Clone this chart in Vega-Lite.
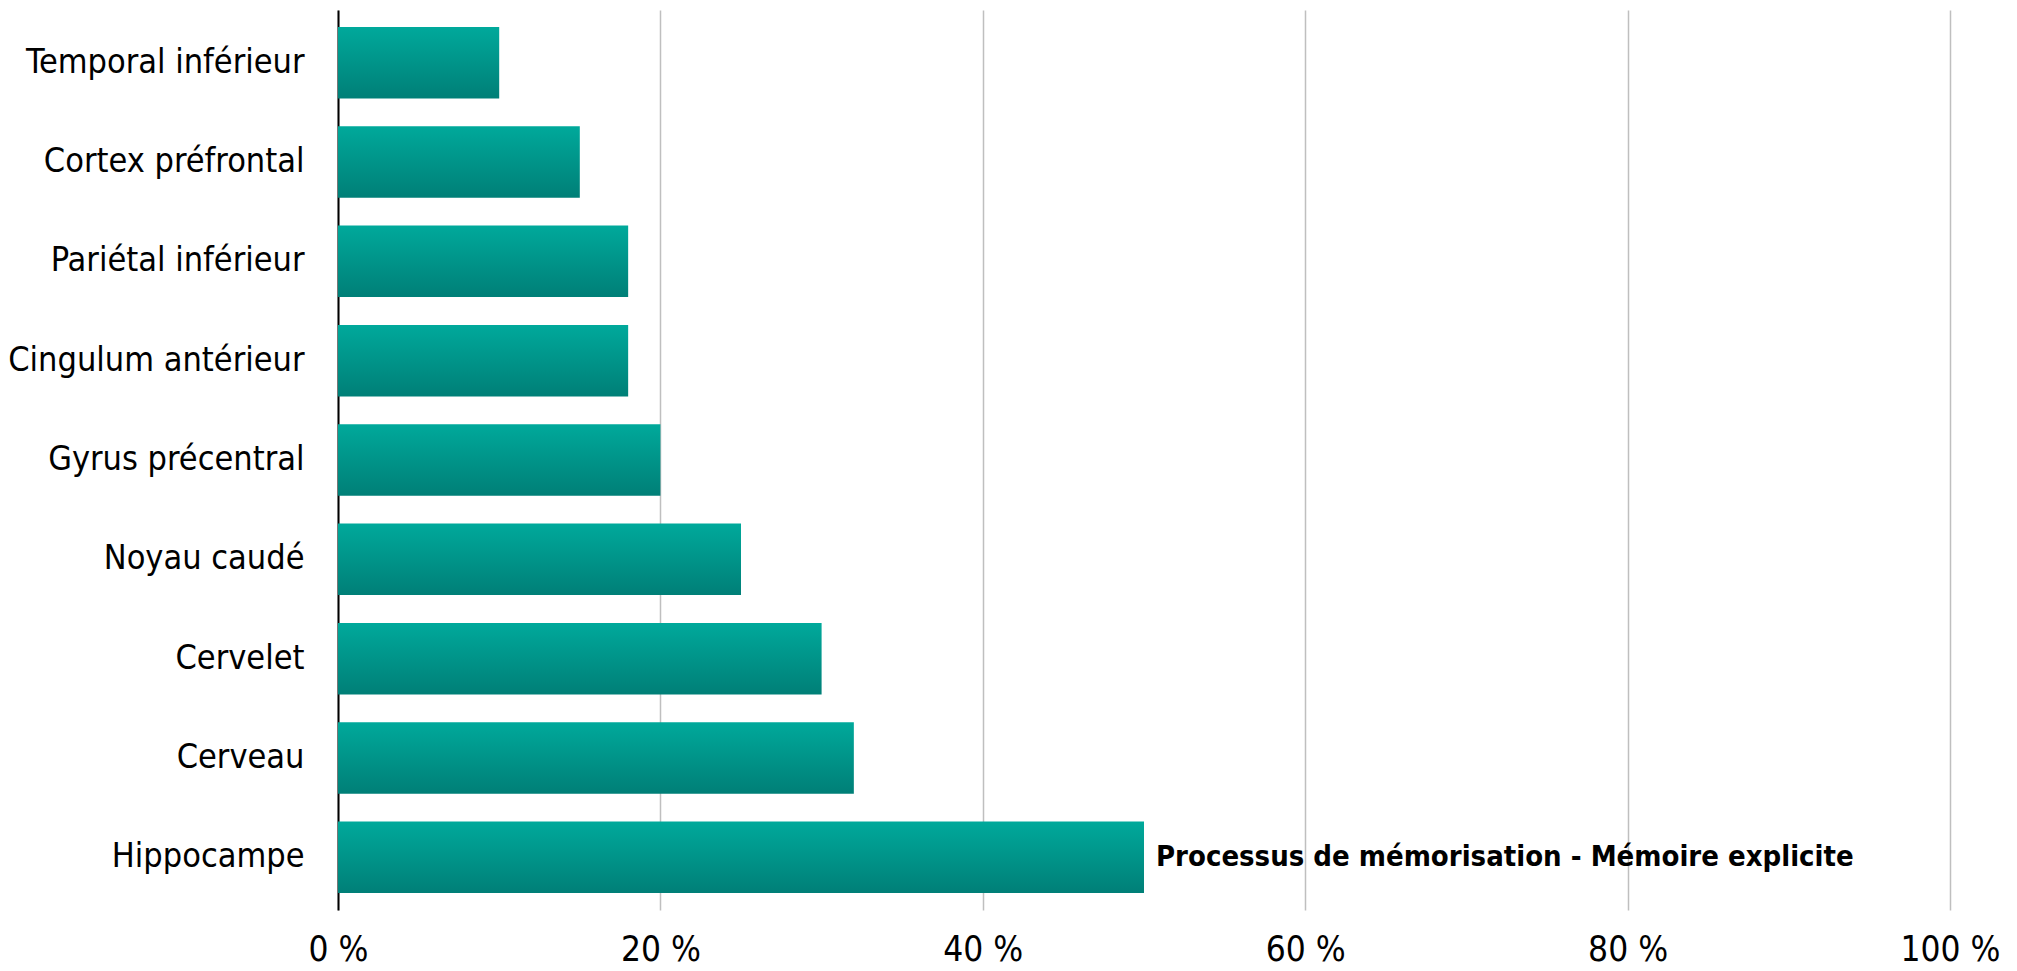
{
  "$schema": "https://vega.github.io/schema/vega-lite/v6.json",
  "width": 1612,
  "height": 900,
  "autosize": "none",
  "padding": {"left": 338, "top": 10, "right": 67, "bottom": 61},
  "background": "white",
  "config": {"view": {"stroke": null}, "font": "DejaVu Sans Condensed"},
  "data": {"values": [
    {"region": "Temporal inférieur", "pct": 10, "note": ""},
    {"region": "Cortex préfrontal", "pct": 15, "note": ""},
    {"region": "Pariétal inférieur", "pct": 18, "note": ""},
    {"region": "Cingulum antérieur", "pct": 18, "note": ""},
    {"region": "Gyrus précentral", "pct": 20, "note": ""},
    {"region": "Noyau caudé", "pct": 25, "note": ""},
    {"region": "Cervelet", "pct": 30, "note": ""},
    {"region": "Cerveau", "pct": 32, "note": ""},
    {"region": "Hippocampe", "pct": 50, "note": "Processus de mémorisation - Mémoire explicite"}
  ]},
  "encoding": {
    "y": {"field": "region", "type": "nominal", "sort": null,
      "scale": {"paddingInner": 0.28, "paddingOuter": 0.17},
      "axis": {"title": null, "ticks": false, "domain": true, "domainColor": "#000000", "domainWidth": 2,
        "labelFont": "DejaVu Sans Condensed", "labelFontSize": 34, "labelColor": "#000000", "labelPadding": 34, "labelLimit": 400}},
    "x": {"field": "pct", "type": "quantitative",
      "scale": {"domain": [0, 100], "nice": false},
      "axis": {"title": null, "values": [0, 20, 40, 60, 80, 100], "labelExpr": "datum.value + ' %'",
        "domain": false, "ticks": false, "grid": true, "gridColor": "#bfbfbf", "gridWidth": 1.5,
        "labelFont": "DejaVu Sans Condensed", "labelFontSize": 35, "labelColor": "#000000", "labelPadding": 22,
        "labelFlush": false}}
  },
  "layer": [
    {"mark": {"type": "bar", "color": {"gradient": "linear", "x1": 0, "y1": 0, "x2": 0, "y2": 1,
      "stops": [{"offset": 0, "color": "#00a99b"}, {"offset": 1, "color": "#007f77"}]}}},
    {"mark": {"type": "text", "align": "left", "baseline": "middle", "dx": 12, "font": "DejaVu Sans Condensed",
      "fontWeight": "bold", "fontSize": 29, "color": "#000000"},
      "encoding": {"text": {"field": "note"}}}
  ]
}
